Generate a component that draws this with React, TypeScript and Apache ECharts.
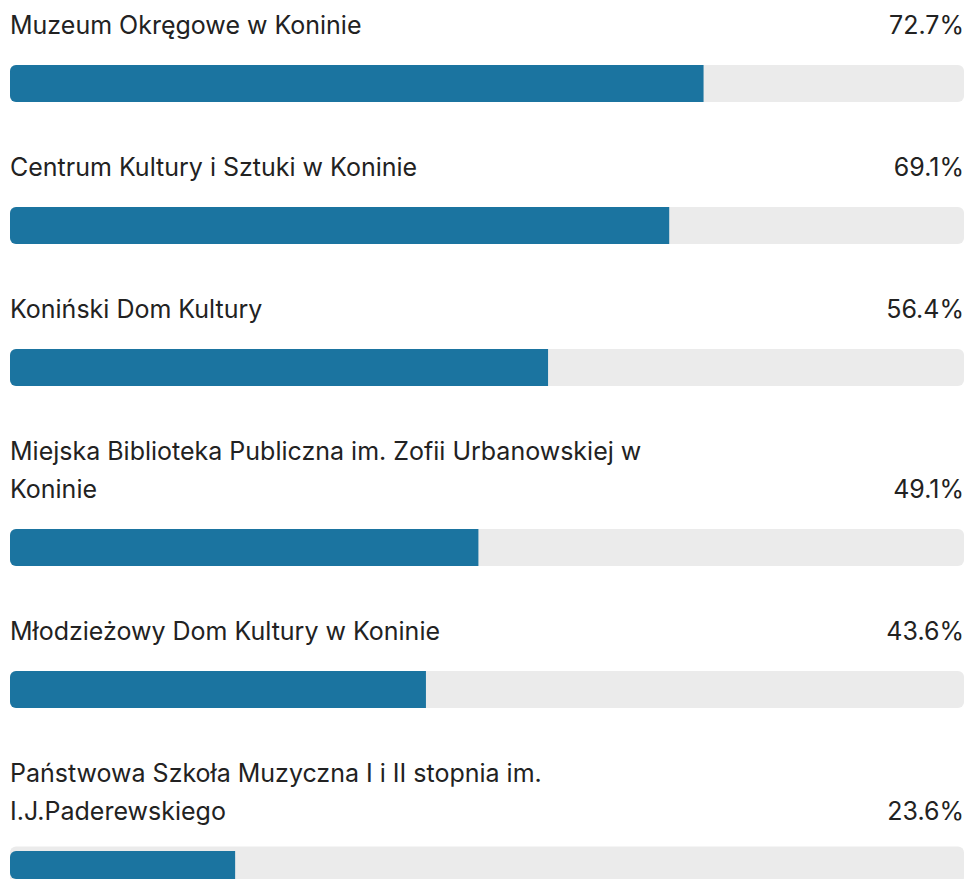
import React, { useEffect, useRef } from "react";
import * as echarts from "echarts";

const categories: string[] = [
  "Muzeum Okręgowe w Koninie",
  "Centrum Kultury i Sztuki w Koninie",
  "Koniński Dom Kultury",
  "Miejska Biblioteka Publiczna im. Zofii Urbanowskiej w Koninie",
  "Młodzieżowy Dom Kultury w Koninie",
  "Państwowa Szkoła Muzyczna I i II stopnia im. I.J.Paderewskiego",
];
const values: number[] = [72.7, 69.1, 56.4, 49.1, 43.6, 23.6];
const axisMax = 100;

const FONT = "Inter, 'Noto Sans', sans-serif";
const FONT_SIZE = 25;
const LINE_H = 38;
const WRAP_W = 720;
const LEFT = 10;
const RIGHT_X = 964;
const BAR_H = 37;

function wrap(text: string): string[] {
  const c = document.createElement("canvas").getContext("2d")!;
  c.font = `${FONT_SIZE}px ${FONT}`;
  const words = text.split(" ");
  const lines: string[] = [];
  let cur = "";
  for (const w of words) {
    const t = cur ? cur + " " + w : w;
    if (cur && c.measureText(t).width > WRAP_W) {
      lines.push(cur);
      cur = w;
    } else cur = t;
  }
  if (cur) lines.push(cur);
  return lines;
}

export default function App() {
  const ref = useRef<HTMLDivElement>(null);
  useEffect(() => {
    document.body.style.margin = "0";
    const chart = echarts.init(ref.current!, null, { renderer: "svg" });
    const grids: any[] = [];
    const xAxes: any[] = [];
    const yAxes: any[] = [];
    const series: any[] = [];
    const graphics: any[] = [];
    let rowTop = 6;
    categories.forEach((name, i) => {
      const lines = wrap(name);
      const barTop = rowTop + lines.length * LINE_H + 21;
      grids.push({ left: LEFT, width: RIGHT_X - LEFT, top: barTop, height: BAR_H });
      xAxes.push({ type: "value", gridIndex: i, min: 0, max: axisMax, show: false });
      yAxes.push({ type: "category", gridIndex: i, data: [name], show: false });
      series.push({
        type: "bar",
        xAxisIndex: i,
        yAxisIndex: i,
        data: [values[i]],
        barWidth: BAR_H,
        showBackground: true,
        backgroundStyle: { color: "#ebebeb", borderRadius: 6 },
        itemStyle: { color: "#1b74a0", borderRadius: [6, 0, 0, 6] },
      });
      lines.forEach((ln, k) => {
        graphics.push({
          type: "text",
          left: LEFT,
          top: rowTop + k * LINE_H,
          style: {
            text: ln,
            font: `${FONT_SIZE}px ${FONT}`,
            fill: "#222222",
            lineHeight: LINE_H,
            height: LINE_H,
          },
        });
      });
      graphics.push({
        type: "text",
        right: 966 - RIGHT_X,
        top: rowTop + (lines.length - 1) * LINE_H,
        style: {
          text: values[i].toFixed(1) + "%",
          font: `${FONT_SIZE}px ${FONT}`,
          fill: "#222222",
          lineHeight: LINE_H,
          height: LINE_H,
          align: "right",
        },
      });
      rowTop = barTop + BAR_H + 46;
    });
    chart.setOption({
      animation: false,
      backgroundColor: "#ffffff",
      grid: grids,
      xAxis: xAxes,
      yAxis: yAxes,
      series,
      graphic: graphics,
    });
    return () => chart.dispose();
  }, []);
  return <div ref={ref} style={{ width: 966, height: 879 }} />;
}
